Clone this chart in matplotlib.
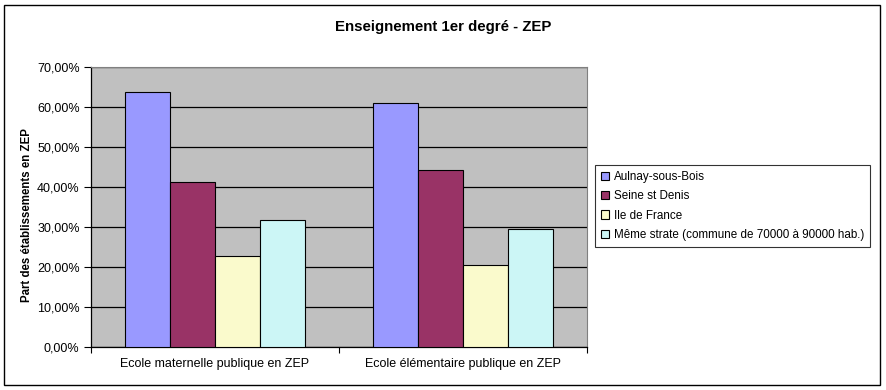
import matplotlib
matplotlib.use("Agg")
import matplotlib.pyplot as plt
from matplotlib.patches import Rectangle
from matplotlib.ticker import FuncFormatter, MultipleLocator

plt.rcParams['font.family'] = ['Liberation Sans', 'DejaVu Sans']

categories = ["Ecole maternelle publique en ZEP", "Ecole élémentaire publique en ZEP"]
series_names = ["Aulnay-sous-Bois", "Seine st Denis", "Ile de France",
                "Même strate (commune de 70000 à 90000 hab.)"]
aulnay = [63.8, 61.1]
seine = [41.3, 44.4]
idf = [22.8, 20.7]
strate = [31.8, 29.6]
colors = ["#9999FF", "#993366", "#FAFACC", "#CCF6F6"]

W, H = 887, 390
fig = plt.figure(figsize=(W / 100, H / 100), dpi=100)
fig.patch.set_facecolor("white")
fig.add_artist(Rectangle((4 / W, 1 - 385 / H), (880 - 4) / W, (385 - 5) / H,
                         transform=fig.transFigure, fill=False, edgecolor="black", lw=1))

left, right, top, bottom = 90.7, 587.3, 67.3, 347.3
ax = fig.add_axes([left / W, 1 - bottom / H, (right - left) / W, (bottom - top) / H])
ax.set_facecolor("#C0C0C0")

bw = 0.181
data = [aulnay, seine, idf, strate]
for i, (vals, c, name) in enumerate(zip(data, colors, series_names)):
    xs = [k + (i - 1.5) * bw for k in range(len(categories))]
    ax.bar(xs, vals, width=bw, color=c, edgecolor="black", linewidth=0.8, label=name, zorder=3)

ax.set_xlim(-0.5, 1.5)
ax.set_ylim(0, 70)
ax.yaxis.set_major_locator(MultipleLocator(10))
ax.yaxis.set_major_formatter(FuncFormatter(lambda v, p: f"{v:.2f}".replace(".", ",") + "%"))
ax.grid(axis="y", color="black", lw=0.9, zorder=1)
ax.set_axisbelow(True)

ax.set_xticks([-0.5, 0.5, 1.5])
ax.set_xticklabels([])
ax.set_xticks([0, 1], minor=True)
ax.set_xticklabels(categories, minor=True, fontsize=9)
ax.tick_params(axis="x", which="minor", length=0, pad=8)
ax.tick_params(axis="x", which="major", length=4, direction="out", color="black")
ax.tick_params(axis="y", length=5, direction="out", labelsize=9, pad=3)

for s in ["top", "right"]:
    ax.spines[s].set_color("#808080")
    ax.spines[s].set_linewidth(0.8)
for s in ["left", "bottom"]:
    ax.spines[s].set_color("black")
    ax.spines[s].set_linewidth(0.9)

fig.text(27 / W, 1 - 215 / H, "Part des établissements en ZEP", rotation=90,
         ha="center", va="center", fontsize=8.3, fontweight="bold")

fig.text(443.5 / W, 1 - 27 / H, "Enseignement 1er degré - ZEP", ha="center", va="center",
         fontsize=10.8, fontweight="bold")

leg = ax.legend(loc="center left", bbox_to_anchor=(595 / W, 1 - 206 / H),
                bbox_transform=fig.transFigure, fontsize=8.4, frameon=True, fancybox=False,
                edgecolor="black", handlelength=0.7, handleheight=0.7, handletextpad=0.4,
                labelspacing=0.62, borderpad=0.5, borderaxespad=0)
leg.get_frame().set_linewidth(0.8)

fig.savefig("out.png", dpi=100)
